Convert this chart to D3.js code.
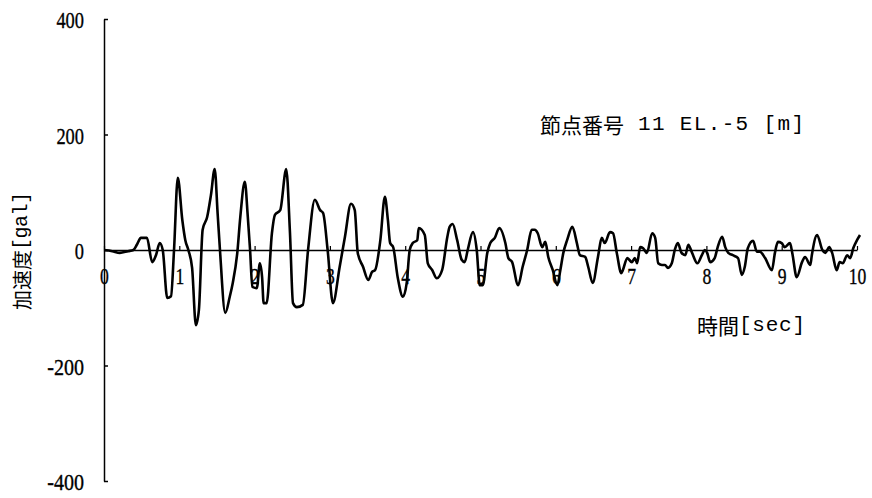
<!DOCTYPE html>
<html>
<head>
<meta charset="utf-8">
<script src="https://cdn.jsdelivr.net/npm/d3@7"></script>
<style>
  html, body { margin: 0; padding: 0; background: #fff; }
  svg { display: block; }
  .tick text { font-family: "Liberation Serif", serif; font-size: 24px; fill: #000; stroke: #000; stroke-width: 0.35px; }
</style>
</head>
<body>
<svg id="chart" width="872" height="498"></svg>
<script>
// ---- data ----
const timeSec = [0,0.11,0.21,0.32,0.39,0.44,0.49,0.57,0.64,0.69,0.74,0.78,0.84,0.89,0.93,0.98,1.04,1.08,1.12,1.17,1.22,1.26,1.31,1.37,1.42,1.47,1.51,1.54,1.61,1.67,1.71,1.77,1.81,1.87,1.91,1.94,1.97,2.03,2.07,2.10,2.12,2.16,2.23,2.27,2.34,2.42,2.47,2.51,2.56,2.64,2.71,2.80,2.87,2.91,2.97,3.04,3.13,3.20,3.28,3.33,3.37,3.44,3.51,3.56,3.60,3.67,3.73,3.77,3.80,3.84,3.90,3.97,4.02,4.06,4.10,4.16,4.18,4.26,4.30,4.36,4.42,4.49,4.56,4.59,4.63,4.69,4.75,4.79,4.83,4.90,4.95,4.99,5.03,5.09,5.13,5.19,5.25,5.33,5.37,5.42,5.50,5.56,5.62,5.68,5.72,5.76,5.82,5.86,5.90,5.96,6.02,6.06,6.10,6.15,6.22,6.28,6.32,6.39,6.43,6.49,6.56,6.61,6.65,6.72,6.76,6.81,6.87,6.89,6.95,7.01,7.05,7.08,7.12,7.16,7.21,7.28,7.32,7.36,7.41,7.45,7.49,7.54,7.58,7.62,7.67,7.72,7.76,7.81,7.88,7.94,7.98,8.01,8.05,8.11,8.15,8.21,8.25,8.29,8.35,8.42,8.47,8.51,8.55,8.62,8.67,8.71,8.78,8.87,8.91,8.95,9.00,9.04,9.11,9.14,9.20,9.27,9.31,9.38,9.40,9.47,9.54,9.58,9.63,9.67,9.73,9.77,9.81,9.87,9.91,9.95,10.00,10.04];
const accelGal = [0,-2,-5,-2,0,10,21,21,-21,-9,12,0,-83,-80,0,125,52,17,0,-31,-130,-104,35,57,95,140,61,0,-109,-81,-57,-5,57,118,57,0,-64,-66,-23,-48,-92,-92,29,61,69,140,29,-92,-99,-95,0,87,69,64,0,-92,-29,23,80,69,-5,-29,-52,-38,-35,17,92,52,12,5,-47,-81,-57,0,12,17,38,26,-23,-35,-49,-35,23,40,45,17,-17,-21,0,31,0,-61,-61,-5,12,21,38,12,-14,-21,-61,-29,0,35,35,29,5,14,-12,-35,-61,-35,-5,17,40,12,-9,-12,-29,-57,-12,21,12,31,29,-5,-40,-35,-14,-21,-14,-23,5,3,-5,29,21,-23,-26,-26,-31,-23,0,12,-5,-9,9,-5,-23,-9,0,-5,-21,-14,5,23,5,-5,-9,-14,-43,-29,3,16,-3,-3,-14,-35,-5,14,12,5,12,-5,-47,-21,-12,-26,-9,26,0,-5,5,-5,-35,-21,-23,-9,-14,3,17,26];
const xTicks = [0,1,2,3,4,5,6,7,8,9,10];
const yTicks = [-400,-200,0,200,400];
const yLabelCJK = "加速度", yLabelUnit = "[gal]";
const xLabelCJK = "時間", xLabelUnit = "[sec]";
const titleCJK = "節点番号", titleRest = " 11 EL.-5 [m]";

// ---- drawing ----
const svg = d3.select("#chart");
const x = d3.scaleLinear().domain([0, 10]).range([104, 857]);
const y = d3.scaleLinear().domain([-400, 400]).range([481, 19]);
const fmt = d => String(d);

// y axis (ticks pointing right)
const yAxis = d3.axisLeft(y).tickValues(yTicks).tickSizeInner(-4).tickSizeOuter(0).tickPadding(20).tickFormat(fmt);
const gy = svg.append("g").attr("transform", `translate(${x(0)},0)`).call(yAxis);
gy.select(".domain").attr("stroke", "#000").attr("stroke-width", 1.5);
gy.selectAll(".tick line").attr("stroke", "#000").attr("stroke-width", 1.5);
gy.selectAll(".tick text").attr("dy", "0.36em")
  .attr("textLength", d => fmt(d).length * 9.2).attr("lengthAdjust", "spacingAndGlyphs");

// x axis at y = 0 (ticks pointing up)
const xAxis = d3.axisBottom(x).tickValues(xTicks).tickSizeInner(-4).tickSizeOuter(0).tickPadding(18).tickFormat(fmt);
const gx = svg.append("g").attr("transform", `translate(0,${y(0)})`).call(xAxis);
gx.select(".domain").attr("stroke", "#000").attr("stroke-width", 1.4);
gx.selectAll(".tick line").attr("stroke", "#000").attr("stroke-width", 1.2);
gx.selectAll(".tick text").attr("dy", "0.66em")
  .attr("textLength", d => fmt(d).length * 8.8).attr("lengthAdjust", "spacingAndGlyphs");

// waveform
const pts = timeSec.map((t, i) => [t, accelGal[i]]);
svg.append("path")
  .datum(pts)
  .attr("fill", "none")
  .attr("stroke", "#000")
  .attr("stroke-width", 2.6)
  .attr("stroke-linejoin", "round")
  .attr("d", d3.line().curve(d3.curveMonotoneX).x(d => x(d[0])).y(d => y(d[1])));

// texts
function mixedText(g, cjk, rest, cjkSize, restLen) {
  const t = g.append("text").attr("dominant-baseline", "central");
  t.append("tspan").attr("font-family", "'Noto Sans CJK JP', sans-serif").attr("font-size", cjkSize).text(cjk);
  t.append("tspan").attr("font-family", "'Liberation Mono', monospace").attr("font-size", cjkSize)
    .attr("textLength", restLen).attr("lengthAdjust", "spacing").attr("xml:space", "preserve").text(rest);
  return t;
}

// y label, rotated
const gyl = svg.append("g").attr("transform", `translate(21,310) rotate(-90)`);
mixedText(gyl, yLabelCJK, yLabelUnit, 20, 58).attr("x", 0).attr("y", 0);

// x label
const gxl = svg.append("g").attr("transform", `translate(697,325)`);
mixedText(gxl, xLabelCJK, xLabelUnit, 21, 66).attr("x", 0).attr("y", 0);

// title
const gt = svg.append("g").attr("transform", `translate(540,124)`);
mixedText(gt, titleCJK, titleRest, 21, 180).attr("x", 0).attr("y", 0).style("white-space", "pre");
</script>
</body>
</html>
